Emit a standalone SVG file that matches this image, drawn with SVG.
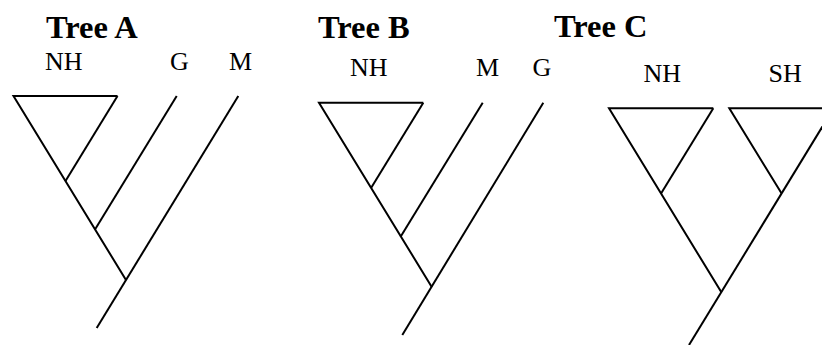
<svg xmlns="http://www.w3.org/2000/svg" width="822" height="345" viewBox="0 0 822 345">
<style>
.title{font-family:"Liberation Serif","Times New Roman",serif;font-weight:bold;font-size:32.5px;fill:#000}
.lbl{font-family:"Liberation Serif","Times New Roman",serif;font-size:26px;fill:#000}
.br{stroke:#000;stroke-width:2;fill:none;stroke-linecap:butt}
</style>
<rect width="822" height="345" fill="#fff"/>
<g id="treeA">
  <text class="title" x="46" y="38">Tree A</text>
  <g id="A-NH"><text class="lbl" x="45" y="70">NH</text></g>
  <g id="A-G"><text class="lbl" x="170" y="70">G</text></g>
  <g id="A-M"><text class="lbl" x="229" y="70">M</text></g>
  <g id="A-edges" class="br">
    <polyline points="117.5,96 13.5,96 126,280"/>
    <line x1="117.5" y1="96" x2="65.5" y2="181"/>
    <line x1="176.7" y1="96" x2="95" y2="229.5"/>
    <line x1="238.3" y1="96" x2="96.7" y2="328"/>
  </g>
</g>
<g id="treeB">
  <text class="title" x="318" y="38">Tree B</text>
  <g id="B-NH"><text class="lbl" x="350" y="75.5">NH</text></g>
  <g id="B-M"><text class="lbl" x="476" y="75.5">M</text></g>
  <g id="B-G"><text class="lbl" x="532.5" y="75.5">G</text></g>
  <g id="B-edges" class="br">
    <polyline points="423.3,102.7 319,102.7 431.6,286.7"/>
    <line x1="423.3" y1="102.7" x2="371.2" y2="187.7"/>
    <line x1="482.7" y1="102.7" x2="400.6" y2="236.7"/>
    <line x1="543.3" y1="102.7" x2="402.3" y2="335"/>
  </g>
</g>
<g id="treeC">
  <text class="title" x="554" y="37">Tree C</text>
  <g id="C-NH"><text class="lbl" x="643.5" y="81.5">NH</text></g>
  <g id="C-SH"><text class="lbl" x="768.5" y="82">SH</text></g>
  <g id="C-edges" class="br">
    <polyline points="713.3,108.3 609,108.3 721.4,292.3"/>
    <line x1="713.3" y1="108.3" x2="661.2" y2="193.3"/>
    <polyline points="833.6,108.3 729.3,108.3 781.5,193.3"/>
    <line x1="833.6" y1="108.3" x2="689" y2="345"/>
  </g>
</g>
</svg>
